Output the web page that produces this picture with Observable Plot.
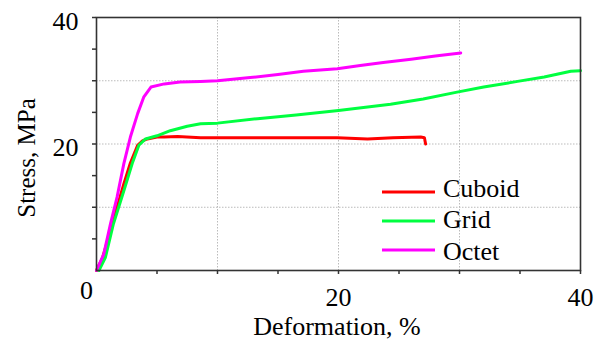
<!DOCTYPE html>
<html>
<head>
<meta charset="utf-8">
<script src="https://cdn.jsdelivr.net/npm/d3@7"></script>
<script src="https://cdn.jsdelivr.net/npm/@observablehq/plot@0.6"></script>
<style>
  html, body { margin: 0; padding: 0; background: #fff; }
  #chart { position: relative; width: 603px; height: 343px; }
  #chart svg, #chart svg text { font-family: "Liberation Serif", "Times New Roman", serif !important; }
</style>
</head>
<body>
<div id="chart"></div>
<script>
// Series (Deformation %, Stress MPa)
const cuboidX = [0, 0.5, 1.16, 1.7, 2.26, 2.8, 3.4, 3.8, 4.2, 5.0, 5.6, 6.7, 8.6, 10, 13, 16, 19.9, 22.4, 24.5, 26.8, 27.1, 27.2];
const cuboidY = [0, 2.0, 6.3, 10.0, 13.7, 17.0, 19.8, 20.5, 20.8, 21.1, 21.1, 21.2, 21.0, 21.0, 21.0, 21.0, 21.0, 20.8, 21.0, 21.1, 21.0, 20.0];
const gridX = [0.2, 0.74, 1.4, 2.26, 2.95, 3.5, 4.05, 5.0, 6.1, 7.5, 8.6, 10, 13.3, 16.5, 20, 24.3, 27, 29.8, 32, 34.8, 37, 39.2, 40];
const gridY = [0, 2.1, 7.4, 12.6, 16.9, 19.8, 20.8, 21.3, 22.1, 22.8, 23.2, 23.3, 24.0, 24.6, 25.3, 26.3, 27.1, 28.2, 29.0, 29.9, 30.6, 31.5, 31.6];
const octetX = [0, 0.6, 1.16, 1.7, 2.26, 2.8, 3.4, 3.9, 4.5, 5.6, 6.9, 8.6, 10, 12.7, 15, 17.1, 19.9, 21.8, 23.7, 26, 28, 30.1];
const octetY = [0, 2.6, 7.4, 11.6, 16.9, 21.1, 24.8, 27.4, 29.0, 29.5, 29.8, 29.9, 30.0, 30.5, 31.0, 31.5, 31.9, 32.4, 32.9, 33.4, 33.9, 34.4];

const seriesNames = ["Cuboid", "Grid", "Octet"];
const seriesColors = ["#ff0000", "#00ff40", "#ff00ff"];

const xTickLabels = [20, 40];
const yTickLabels = [20, 40];
const minorTicks = [5, 10, 15, 20, 25, 30, 35, 40];
const gridValues = [10, 20, 30];

const xLabel = "Deformation, %";
const yLabel = "Stress, MPa";

const toRows = (name, xs, ys) => xs.map((x, i) => ({series: name, x, y: ys[i]}));
const rows = [
  ...toRows("Cuboid", cuboidX, cuboidY),
  ...toRows("Grid", gridX, gridY),
  ...toRows("Octet", octetX, octetY)
];

const FONT = "Liberation Serif, Times New Roman, serif";

const plot = Plot.plot({
  width: 603,
  height: 343,
  marginLeft: 96,
  marginRight: 23,
  marginTop: 17,
  marginBottom: 73,
  style: {fontSize: "26px", color: "#000", background: "#fff", overflow: "visible"},
  x: {domain: [0, 40]},
  y: {domain: [0, 40]},
  color: {domain: seriesNames, range: seriesColors},
  marks: [
    Plot.gridX(gridValues, {stroke: "#bbb", strokeOpacity: 1, strokeDasharray: "1.5,1.5"}),
    Plot.gridY(gridValues, {stroke: "#bbb", strokeOpacity: 1, strokeDasharray: "1.5,1.5"}),
    Plot.axisX(minorTicks, {tickSize: 4, tickFormat: () => "", stroke: "#333", strokeWidth: 1.5, label: null}),
    Plot.axisY(minorTicks, {tickSize: 4, tickFormat: () => "", stroke: "#333", strokeWidth: 1.5, label: null}),
    Plot.axisX(xTickLabels, {tickSize: 0, tickPadding: 17, fontSize: 26, label: null}),
    Plot.axisY(yTickLabels, {tickSize: 0, tickPadding: 18, fontSize: 26, dy: 4, label: null}),
    Plot.text([0], {x: d => d, y: 0, text: d => String(d), dx: -10, dy: 20, fontSize: 26}),
    Plot.line(rows, {x: "x", y: "y", z: "series", stroke: "series", strokeWidth: 3, curve: "linear"}),
    Plot.frame({stroke: "#333", strokeWidth: 1.6})
  ]
});

const host = document.getElementById("chart");
host.appendChild(plot);

// axis titles and legend
const svg = d3.select(plot);
svg.append("text")
  .attr("transform", "translate(35,158) rotate(-90)")
  .attr("text-anchor", "middle")
  .attr("font-family", FONT).attr("font-size", 25).attr("fill", "#000")
  .text(yLabel);
svg.append("text")
  .attr("x", 337).attr("y", 335)
  .attr("text-anchor", "middle")
  .attr("font-family", FONT).attr("font-size", 26).attr("fill", "#000")
  .text(xLabel);

const legendLineY = [192, 221, 250];
const legendTextY = [197, 228, 260];
seriesNames.forEach((name, i) => {
  svg.append("line")
    .attr("x1", 382).attr("x2", 435)
    .attr("y1", legendLineY[i]).attr("y2", legendLineY[i])
    .attr("stroke", seriesColors[i]).attr("stroke-width", 3);
  svg.append("text")
    .attr("x", 443).attr("y", legendTextY[i])
    .attr("text-anchor", "start")
    .attr("font-family", FONT).attr("font-size", 26).attr("fill", "#000")
    .text(name);
});
</script>
</body>
</html>
